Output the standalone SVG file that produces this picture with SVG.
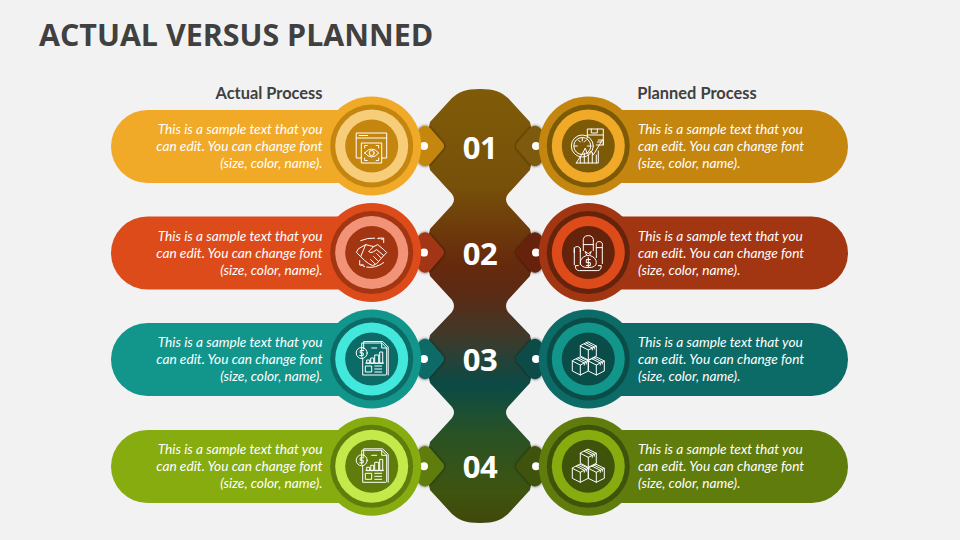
<svg xmlns="http://www.w3.org/2000/svg" xmlns:xlink="http://www.w3.org/1999/xlink" width="960" height="540" viewBox="0 0 960 540">
<style>
.t{font-family:"Open Sans","Liberation Sans",sans-serif;font-weight:700;fill:#404040}
.h{font-family:Lato,"Liberation Sans",sans-serif;font-weight:700;font-size:16.4px;fill:#404040;text-anchor:middle}
.n{font-family:"Open Sans","Liberation Sans",sans-serif;font-weight:700;font-size:31px;letter-spacing:-.6px;fill:#fff;text-anchor:middle}
.b{font-family:Lato,"Liberation Sans",sans-serif;font-style:italic;font-size:13.7px;fill:#fff}
.e{text-anchor:end}
.ic{fill:none;stroke:#fff;stroke-width:1;stroke-linejoin:round;stroke-linecap:round}
.dot{fill:#fff}
</style>
<defs>
<linearGradient id="sp" x1="0" y1="89" x2="0" y2="523" gradientUnits="userSpaceOnUse">
<stop offset="0" stop-color="#7f5b08"/><stop offset=".22" stop-color="#77510a"/><stop offset=".4" stop-color="#672a0d"/><stop offset=".47" stop-color="#5c2a14"/><stop offset=".57" stop-color="#3f3a2a"/><stop offset=".68" stop-color="#0b4a46"/><stop offset=".8" stop-color="#2a5224"/><stop offset=".93" stop-color="#3e540f"/><stop offset="1" stop-color="#40480c"/>
</linearGradient>
<filter id="sh" x="-40%" y="-40%" width="180%" height="180%"><feDropShadow dx="0" dy="0" stdDeviation="1.8" flood-color="#000" flood-opacity=".7"/></filter>
<path id="tab" d="M-7-14Q-1-24 6-18L19-3Q21 0 19 3L6 18Q-1 24-7 14A8 8 0 0 1-7-14Z"/>
<g id="i-eye" class="ic">
<path d="M-10 12H-15.500V-13H15V12H10M-15.500-8H15M-12.500-10.500H-4"/>
<path d="M-10-3H10V17H-10Z"/>
<path d="M-7 2V-0.500H-4.500M4.500-0.500H7V2M-7 12V14.500H-4.500M7 12V14.500H4.500"/>
<path d="M-7 7Q0-1 7 7Q0 15-7 7Z"/><circle cx="0" cy="7" r="2.500"/>
</g>
<g id="i-gauge" class="ic">
<path d="M-1-8V-17H15V-1H8M-1-11H15M3-17V-13H9V-17M9-4H13"/>
<circle cx="-6" cy="0" r="11"/><circle cx="-6" cy="0" r="8.500"/>
<path d="M-6-8V-5M-14 0H-11M2 0H-1M-10-6L-8-4M-2-6L-4-4"/>
<path d="M-12 17L-5 6L-3 2L-1 8L3 5L5 9L14-6M10-6H15V-1"/>
<path d="M-12 17H10V5M-8 17V11M-4 17V7M0 17V9M4 17V7M8 17V9"/>
</g>
<g id="i-hand" class="ic">
<path d="M-11-12Q-4-15 3-14.500M6-14H7.500M9.500-13.500H11M7-14.500H12V-10M-5 14.500Q4 16 12 10M-12 8V12.500H-8M-10.500 12.500H-9M-8 14H-7"/>
<path d="M-13-4L-6-8L-2-7L2-6L6-8L12-3L15 0L12 3L5 11L1 13L-3 11L-7 8L-11 4L-15 0Z"/>
<path d="M-6-8L-11 4M2-6L-3-1Q-1 1 2-1L5-3L12 3M5 1L9 5M2 4L6 8M-1 7L3 11"/>
</g>
<g id="i-bag" class="ic">
<path d="M-14 12V-1M-8 12V-4M-14-1Q-15-6-11-6Q-7-6-8-1M-14 0V-5"/>
<path d="M-5-2V-10Q-6-17 0-17Q6-17 5-10V-2M-5-8H5"/>
<path d="M8 5V-6Q7-11 11-11Q15-11 14-6V11M8-5H14"/>
<path d="M-3-1L0 1L3-1L1 3H-1ZM-2 3Q-8 5-8 10Q-8 15 0 15Q8 15 8 10Q8 5 2 3"/>
<path d="M-10 13H-13Q-13 18-9 18H9Q13 18 13 13H10"/>
<path d="M2 7H-2V10H2V13H-2M0 5V15"/>
</g>
<g id="i-doc" class="ic">
<path d="M-10-10V-16H10L15-11V15Q15 16 14 16H-9V-1"/>
<path d="M-8-10V-17.500H11L16.500-12V16"/>
<path d="M10-16V-11H15M0-11H5"/>
<circle cx="-10" cy="-6" r="5.500"/>
<path d="M-8-8.500H-11.500V-6H-8.500V-3.500H-12M-10-10V-2"/>
<path d="M-5 4V1H-2V4ZM-1 4V-1H2V4ZM3 4V-4H7V4ZM8 4V-7H11V4ZM-6 4H12"/>
<path d="M-6 7H0V13H-6ZM3 7H10M3 10H10M3 13H10"/>
</g>
<g id="cube"><path d="M0-9L8-5V5L0 9L-8 5V-5ZM-8-5L0-1L8-5M0-1V9M-4-7L4-3V-1M-2-8L6-4V-2"/></g>
<g id="i-cubes" class="ic">
<use href="#cube" y="-8"/><use href="#cube" x="-8" y="7"/><use href="#cube" x="8" y="7"/>
</g>
</defs>
<rect width="960" height="540" fill="#f2f2f2"/>
<text class="t" x="39" y="45.500" font-size="30.400">ACTUAL VERSUS PLANNED</text>
<text class="h" x="269" y="98.500">Actual Process</text>
<text class="h" x="697" y="98.500">Planned Process</text>
<g id="spine"><path fill="url(#sp)" d="M480 89C465 89 459 92 452 98L430 122L425 146L430 170L452 194Q456 199.500 452 205L430 229L425 252.600L430 276L452 300Q456 306 452 312L430 335L425 359L430 383L452 407Q456 412.500 452 418L430 442L425 466L430 490L452 514C459 520 465 523 480 523C495 523 501 520 508 514L530 490L535 466L530 442L508 418Q504 412.500 508 407L530 383L535 359L530 335L508 312Q504 306 508 300L530 276L535 252.600L530 229L508 205Q504 199.500 508 194L530 170L535 146L530 122L508 98C501 92 495 89 480 89Z"/></g>
<g id="connectors">
<g transform="translate(424,146)"><use href="#tab" fill="#c4860f" filter="url(#sh)"/><circle r="4" class="dot"/></g>
<g transform="translate(536,146) scale(-1,1)"><use href="#tab" fill="#7d5a08" filter="url(#sh)"/><circle r="4" class="dot"/></g>
<g transform="translate(424,252.600)"><use href="#tab" fill="#a23512" filter="url(#sh)"/><circle r="4" class="dot"/></g>
<g transform="translate(536,252.600) scale(-1,1)"><use href="#tab" fill="#66230c" filter="url(#sh)"/><circle r="4" class="dot"/></g>
<g transform="translate(424,359)"><use href="#tab" fill="#0c6b66" filter="url(#sh)"/><circle r="4" class="dot"/></g>
<g transform="translate(536,359) scale(-1,1)"><use href="#tab" fill="#0a4c48" filter="url(#sh)"/><circle r="4" class="dot"/></g>
<g transform="translate(424,466.300)"><use href="#tab" fill="#5f7c0c" filter="url(#sh)"/><circle r="4" class="dot"/></g>
<g transform="translate(536,466.300) scale(-1,1)"><use href="#tab" fill="#3f530a" filter="url(#sh)"/><circle r="4" class="dot"/></g>
</g>
<g id="num-1"><text class="n" x="480" y="158.500">01</text></g>
<g id="num-2"><text class="n" x="480" y="264.500">02</text></g>
<g id="num-3"><text class="n" x="480" y="370.500">03</text></g>
<g id="num-4"><text class="n" x="480" y="477.500">04</text></g>

<g id="actual-1">
<path fill="#f0aa28" d="M147.500 110H372V183H147.500A36.500 36.500 0 0 1 147.500 110Z"/>
<circle cx="371.700" cy="146" r="49.500" fill="#f0aa28"/><circle cx="371.700" cy="146" r="41.500" fill="#c4860f"/><circle cx="371.700" cy="146" r="36.500" fill="#f7cd7a"/><circle cx="371.700" cy="146" r="26.500" fill="#c4860f"/>
<use href="#i-eye" x="371.700" y="146"/>
<text class="b e" y="134"><tspan x="322.500">This is a sample text that you</tspan><tspan x="322.500" y="151">can edit. You can change font</tspan><tspan x="322.500" y="168">(size, color, name).</tspan></text>
</g>
<g id="planned-1">
<path fill="#c4860f" d="M811.500 110H588V183H811.500A36.500 36.500 0 0 0 811.500 110Z"/>
<circle cx="588.300" cy="146" r="49.500" fill="#c4860f"/><circle cx="588.300" cy="146" r="41.500" fill="#7d5a08"/><circle cx="588.300" cy="146" r="36.500" fill="#f0aa28"/><circle cx="588.300" cy="146" r="26.500" fill="#7d5a08"/>
<use href="#i-gauge" x="588.300" y="146"/>
<text class="b" y="134"><tspan x="638">This is a sample text that you</tspan><tspan x="638" y="151">can edit. You can change font</tspan><tspan x="638" y="168">(size, color, name).</tspan></text>
</g>
<g id="actual-2">
<path fill="#dd4b1a" d="M147.500 216.500H372V289.500H147.500A36.500 36.500 0 0 1 147.500 216.500Z"/>
<circle cx="371.700" cy="252.600" r="49.500" fill="#dd4b1a"/><circle cx="371.700" cy="252.600" r="41.500" fill="#a23512"/><circle cx="371.700" cy="252.600" r="36.500" fill="#f29378"/><circle cx="371.700" cy="252.600" r="26.500" fill="#a23512"/>
<use href="#i-hand" x="371.700" y="252.600"/>
<text class="b e" y="240.500"><tspan x="322.500">This is a sample text that you</tspan><tspan x="322.500" y="257.500">can edit. You can change font</tspan><tspan x="322.500" y="274.500">(size, color, name).</tspan></text>
</g>
<g id="planned-2">
<path fill="#a23512" d="M811.500 216.500H588V289.500H811.500A36.500 36.500 0 0 0 811.500 216.500Z"/>
<circle cx="588.300" cy="252.600" r="49.500" fill="#a23512"/><circle cx="588.300" cy="252.600" r="41.500" fill="#66230c"/><circle cx="588.300" cy="252.600" r="36.500" fill="#dd4b1a"/><circle cx="588.300" cy="252.600" r="26.500" fill="#66230c"/>
<use href="#i-bag" x="588.300" y="252.600"/>
<text class="b" y="240.500"><tspan x="638">This is a sample text that you</tspan><tspan x="638" y="257.500">can edit. You can change font</tspan><tspan x="638" y="274.500">(size, color, name).</tspan></text>
</g>
<g id="actual-3">
<path fill="#12968c" d="M147.500 323H372V396H147.500A36.500 36.500 0 0 1 147.500 323Z"/>
<circle cx="371.700" cy="359" r="49.500" fill="#12968c"/><circle cx="371.700" cy="359" r="41.500" fill="#0c6b66"/><circle cx="371.700" cy="359" r="36.500" fill="#42e8dc"/><circle cx="371.700" cy="359" r="26.500" fill="#0c6b66"/>
<use href="#i-doc" x="371.700" y="359"/>
<text class="b e" y="347"><tspan x="322.500">This is a sample text that you</tspan><tspan x="322.500" y="364">can edit. You can change font</tspan><tspan x="322.500" y="381">(size, color, name).</tspan></text>
</g>
<g id="planned-3">
<path fill="#0c6b66" d="M811.500 323H588V396H811.500A36.500 36.500 0 0 0 811.500 323Z"/>
<circle cx="588.300" cy="359" r="49.500" fill="#0c6b66"/><circle cx="588.300" cy="359" r="41.500" fill="#0a4c48"/><circle cx="588.300" cy="359" r="36.500" fill="#12968c"/><circle cx="588.300" cy="359" r="26.500" fill="#0a4c48"/>
<use href="#i-cubes" x="588.300" y="359"/>
<text class="b" y="347"><tspan x="638">This is a sample text that you</tspan><tspan x="638" y="364">can edit. You can change font</tspan><tspan x="638" y="381">(size, color, name).</tspan></text>
</g>
<g id="actual-4">
<path fill="#86ac0f" d="M147.500 430H372V503H147.500A36.500 36.500 0 0 1 147.500 430Z"/>
<circle cx="371.700" cy="466.300" r="49.500" fill="#86ac0f"/><circle cx="371.700" cy="466.300" r="41.500" fill="#5f7c0c"/><circle cx="371.700" cy="466.300" r="36.500" fill="#c3ea4a"/><circle cx="371.700" cy="466.300" r="26.500" fill="#5f7c0c"/>
<use href="#i-doc" x="371.700" y="466.300"/>
<text class="b e" y="454"><tspan x="322.500">This is a sample text that you</tspan><tspan x="322.500" y="471">can edit. You can change font</tspan><tspan x="322.500" y="488">(size, color, name).</tspan></text>
</g>
<g id="planned-4">
<path fill="#5f7c0c" d="M811.500 430H588V503H811.500A36.500 36.500 0 0 0 811.500 430Z"/>
<circle cx="588.300" cy="466.300" r="49.500" fill="#5f7c0c"/><circle cx="588.300" cy="466.300" r="41.500" fill="#3f530a"/><circle cx="588.300" cy="466.300" r="36.500" fill="#86ac0f"/><circle cx="588.300" cy="466.300" r="26.500" fill="#3f530a"/>
<use href="#i-cubes" x="588.300" y="466.300"/>
<text class="b" y="454"><tspan x="638">This is a sample text that you</tspan><tspan x="638" y="471">can edit. You can change font</tspan><tspan x="638" y="488">(size, color, name).</tspan></text>
</g>
</svg>
